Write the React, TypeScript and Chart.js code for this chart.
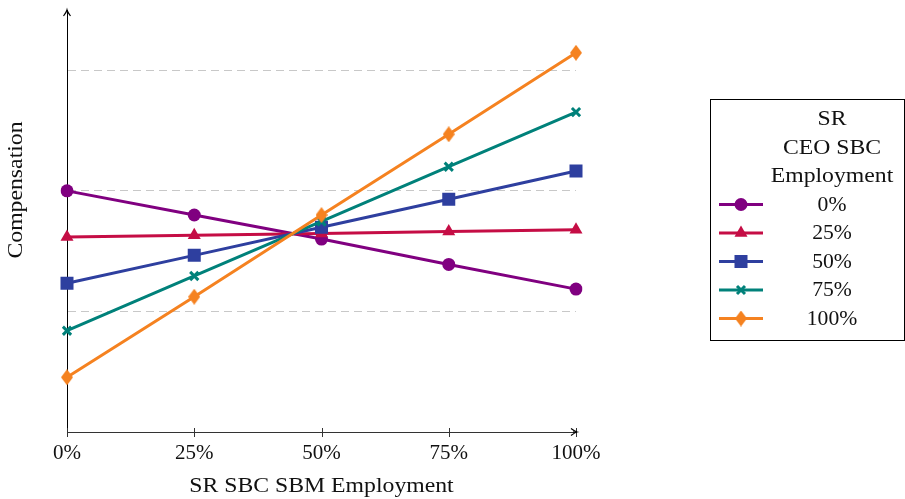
import React, { useEffect, useRef } from 'react';
import { Chart, registerables } from 'chart.js';

Chart.register(...registerables);

const FONT = '"Liberation Serif", "Times New Roman", serif';

const categories = ['0%', '25%', '50%', '75%', '100%'];
const seriesLabels = ['0%', '25%', '50%', '75%', '100%'];
const legendTitle = ['SR', 'CEO SBC', 'Employment'];
const xTitle = 'SR SBC SBM Employment';
const yTitle = 'Compensation';

const series0 = [2.0, 1.8, 1.6, 1.39, 1.185];
const series25 = [1.617, 1.632, 1.647, 1.662, 1.677];
const series50 = [1.233, 1.465, 1.698, 1.93, 2.164];
const series75 = [0.84, 1.294, 1.746, 2.2, 2.653];
const series100 = [0.454, 1.122, 1.799, 2.469, 3.145];

const yGridValues = [1, 2, 3];
const yMin = 0;
const yMax = 3.5;

const colors = ['#800080', '#c50d45', '#2e3f9f', '#00817a', '#f58220'];
const markers = ['circle', 'triangle', 'rect', 'crossRot', 'diamond'];

function makeDiamond(color: string) {
  const c = document.createElement('canvas');
  c.width = 12;
  c.height = 16;
  const g = c.getContext('2d')!;
  g.fillStyle = color;
  g.beginPath();
  g.moveTo(6, 0);
  g.lineTo(12, 8);
  g.lineTo(6, 16);
  g.lineTo(0, 8);
  g.closePath();
  g.fill();
  return c;
}

function drawMarker(ctx: CanvasRenderingContext2D, type: string, x: number, y: number, color: string, diamond: HTMLCanvasElement) {
  ctx.save();
  ctx.fillStyle = color;
  ctx.strokeStyle = color;
  ctx.beginPath();
  if (type === 'circle') {
    ctx.arc(x, y, 6.5, 0, Math.PI * 2);
    ctx.fill();
  } else if (type === 'triangle') {
    const r = 7.5;
    ctx.moveTo(x, y - r);
    ctx.lineTo(x + r * 0.866, y + r * 0.5);
    ctx.lineTo(x - r * 0.866, y + r * 0.5);
    ctx.closePath();
    ctx.fill();
  } else if (type === 'rect') {
    ctx.fillRect(x - 6.5, y - 6.5, 13, 13);
  } else if (type === 'crossRot') {
    ctx.lineWidth = 3;
    const s = 4;
    ctx.moveTo(x - s, y - s);
    ctx.lineTo(x + s, y + s);
    ctx.moveTo(x + s, y - s);
    ctx.lineTo(x - s, y + s);
    ctx.stroke();
  } else {
    ctx.drawImage(diamond, x - 6, y - 8);
  }
  ctx.restore();
}

function stretchText(ctx: CanvasRenderingContext2D, text: string, x: number, y: number, sx: number) {
  ctx.save();
  ctx.translate(x, y);
  ctx.scale(sx, 1);
  ctx.fillText(text, 0, 0);
  ctx.restore();
}

export default function App() {
  const ref = useRef<HTMLCanvasElement | null>(null);

  useEffect(() => {
    const canvas = ref.current;
    if (!canvas) return;
    const diamonds = colors.map((c) => makeDiamond(c));
    const seriesData = [series0, series25, series50, series75, series100];

    const datasets = seriesData.map((d, i) => {
      const m = markers[i];
      let pointStyle: any = m;
      let radius = 6.5;
      let borderW = 0;
      if (m === 'triangle') radius = 7.5;
      if (m === 'rect') radius = 9.2;
      if (m === 'crossRot') { radius = 5.8; borderW = 3; }
      if (m === 'diamond') pointStyle = diamonds[i];
      return {
        label: seriesLabels[i],
        data: d,
        borderColor: colors[i],
        backgroundColor: colors[i],
        borderWidth: 3,
        pointStyle,
        pointRadius: radius,
        pointBorderWidth: borderW,
        pointBorderColor: colors[i],
        pointBackgroundColor: colors[i],
        tension: 0,
        order: 4 - i,
      };
    });

    const overlay = {
      id: 'overlay',
      afterDraw(chart: any) {
        const ctx: CanvasRenderingContext2D = chart.ctx;
        const area = chart.chartArea;
        const xs = chart.scales.x;
        ctx.save();
        // x tick marks crossing axis
        ctx.strokeStyle = '#333';
        ctx.lineWidth = 1;
        categories.forEach((_, i) => {
          const px = Math.round(xs.getPixelForValue(i)) + 0.5;
          ctx.beginPath();
          ctx.moveTo(px, area.bottom - 4);
          ctx.lineTo(px, area.bottom + 5);
          ctx.stroke();
        });
        // arrows
        ctx.strokeStyle = '#000';
        ctx.lineWidth = 1.2;
        const ax = area.left;
        ctx.beginPath();
        ctx.moveTo(ax - 3.5, area.top + 6);
        ctx.quadraticCurveTo(ax - 0.5, area.top + 2, ax, area.top);
        ctx.quadraticCurveTo(ax + 0.5, area.top + 2, ax + 3.5, area.top + 6);
        ctx.stroke();
        const ay = area.bottom;
        const tipX = area.right + 1;
        ctx.beginPath();
        ctx.moveTo(area.right - 3, ay);
        ctx.lineTo(tipX, ay);
        ctx.stroke();
        ctx.beginPath();
        ctx.moveTo(tipX - 6, ay - 3.5);
        ctx.quadraticCurveTo(tipX - 2, ay - 0.5, tipX, ay);
        ctx.quadraticCurveTo(tipX - 2, ay + 0.5, tipX - 6, ay + 3.5);
        ctx.stroke();

        // axis titles
        const sx = 1.13;
        ctx.fillStyle = '#111';
        ctx.font = `21px ${FONT}`;
        ctx.textAlign = 'center';
        ctx.textBaseline = 'alphabetic';
        stretchText(ctx, xTitle, (area.left + area.right) / 2, 492, sx);
        ctx.save();
        ctx.translate(22, 190);
        ctx.rotate(-Math.PI / 2);
        stretchText(ctx, yTitle, 0, 0, sx);
        ctx.restore();

        // legend
        ctx.strokeStyle = '#000';
        ctx.lineWidth = 1;
        ctx.strokeRect(710.5, 99.5, 194, 241);
        const step = 28.5;
        legendTitle.forEach((t, i) => stretchText(ctx, t, 832, 125 + i * step, sx));
        chart.data.datasets.forEach((ds: any, i: number) => {
          const base = 125 + (legendTitle.length + i) * step;
          const my = base - 6;
          ctx.save();
          ctx.strokeStyle = colors[i];
          ctx.lineWidth = 3;
          ctx.beginPath();
          ctx.moveTo(719, my);
          ctx.lineTo(763, my);
          ctx.stroke();
          ctx.restore();
          drawMarker(ctx, markers[i], 741, my, colors[i], diamonds[i]);
          ctx.fillStyle = '#111';
          stretchText(ctx, ds.label, 832, base, 1.03);
        });
        ctx.restore();
      },
    };

    const chart = new Chart(canvas, {
      type: 'line',
      data: { labels: categories, datasets },
      options: {
        responsive: false,
        animation: false,
        devicePixelRatio: 1,
        layout: { padding: { left: 67, right: 329, top: 10, bottom: 33 } },
        plugins: {
          legend: { display: false },
          tooltip: { enabled: false },
          title: { display: false },
        },
        scales: {
          x: {
            type: 'category',
            offset: false,
            grid: { display: false, drawTicks: false },
            border: { display: true, color: '#333', width: 1 },
            ticks: { font: { family: FONT, size: 21 }, color: '#111', padding: 9 },
            afterFit: (s: any) => { s.height = 34; },
          },
          y: {
            min: yMin,
            max: yMax,
            ticks: { display: false, stepSize: 1 },
            grid: {
              drawTicks: false,
              lineWidth: 1,
              color: (c: any) => (c.tick && yGridValues.includes(c.tick.value) ? '#c8c8c8' : 'rgba(0,0,0,0)'),
            },
            border: { display: true, color: '#000', width: 1, dash: [8, 5] },
            afterFit: (s: any) => { s.width = 0; },
          },
        },
      },
      plugins: [overlay],
    });
    return () => chart.destroy();
  }, []);

  return (
    <div style={{ position: 'absolute', left: 0, top: 0, width: 905, height: 499, background: '#fff' }}>
      <canvas ref={ref} width={905} height={499} style={{ display: 'block' }} />
    </div>
  );
}
